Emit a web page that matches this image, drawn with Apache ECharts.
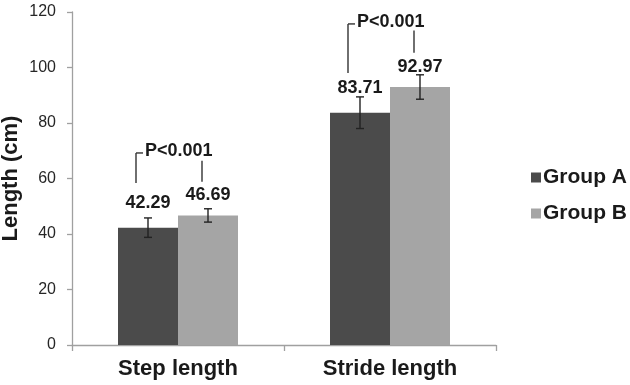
<!DOCTYPE html>
<html>
<head>
<meta charset="utf-8">
<script src="https://cdn.jsdelivr.net/npm/echarts@6/dist/echarts.min.js"></script>
<style>
html,body{margin:0;padding:0;background:#fff;}
#main{width:630px;height:385px;}
</style>
</head>
<body>
<div id="main"></div>
<script>
// ---- data ----
var categories = ['Step length', 'Stride length'];
var groupNames = ['Group A', 'Group B'];
var groupA = [42.29, 83.71];
var groupB = [46.69, 92.97];
var groupASD = [3.5, 5.7];
var groupBSD = [2.4, 4.4];
var yTicks = [0, 20, 40, 60, 80, 100, 120];
// significance brackets: [category, leftLow, leftHigh, rightLow, rightHigh]
var brackets = [
  [0, 58.4, 69.2, 58.8, 66.4],
  [1, 98.0, 115.7, 105.3, 113.3]
];
var pLabels = ['P<0.001', 'P<0.001'];

// ---- style ----
var BAR_W = 60;
var FONT = 'Liberation Sans, Arial, sans-serif';
var TEXT = '#1a1a1a';
var AXIS = '#a0a0a0';
var colorA = '#4b4b4b';
var colorB = '#a5a5a5';

function errData(means, sds) {
  return means.map(function (m, i) { return [i, m - sds[i], m + sds[i]]; });
}

function errSeries(name, means, sds, side) {
  return {
    type: 'custom',
    name: name + ' err',
    silent: true,
    z: 10,
    data: errData(means, sds),
    renderItem: function (params, api) {
      var lo = api.coord([api.value(0), api.value(1)]);
      var hi = api.coord([api.value(0), api.value(2)]);
      var x = lo[0] + side * BAR_W / 2;
      var cw = 4;
      var st = { stroke: '#222', lineWidth: 1.4 };
      return {
        type: 'group',
        children: [
          { type: 'line', shape: { x1: x, y1: lo[1], x2: x, y2: hi[1] }, style: st },
          { type: 'line', shape: { x1: x - cw, y1: lo[1], x2: x + cw, y2: lo[1] }, style: st },
          { type: 'line', shape: { x1: x - cw, y1: hi[1], x2: x + cw, y2: hi[1] }, style: st }
        ]
      };
    }
  };
}

var chart = echarts.init(document.getElementById('main'));
chart.setOption({
  animation: false,
  backgroundColor: '#fff',
  textStyle: { fontFamily: FONT },
  grid: { left: 72, right: 134, top: 12, bottom: 40, containLabel: false, outerBoundsMode: 'none' },
  legend: {
    orient: 'vertical',
    left: 526,
    top: 162,
    itemWidth: 10,
    itemHeight: 10,
    itemGap: 15,
    icon: 'rect',
    data: groupNames,
    textStyle: { fontSize: 21, fontWeight: 'bold', color: TEXT, fontFamily: FONT, padding: [0, 0, 0, -3] }
  },
  xAxis: {
    type: 'category',
    data: categories,
    axisLine: { lineStyle: { color: AXIS, width: 1.3 } },
    axisTick: { show: true, length: 6, lineStyle: { color: AXIS, width: 1.3 } },
    axisLabel: { fontSize: 22, fontWeight: 'bold', color: TEXT, margin: 13, fontFamily: FONT }
  },
  yAxis: {
    type: 'value',
    min: yTicks[0],
    max: yTicks[yTicks.length - 1],
    interval: yTicks[1] - yTicks[0],
    name: 'Length (cm)',
    nameLocation: 'middle',
    nameGap: 50,
    nameMoveOverlap: false,
    nameTextStyle: { fontSize: 22, fontWeight: 'bold', color: TEXT, fontFamily: FONT },
    splitLine: { show: false },
    axisLine: { show: true, lineStyle: { color: AXIS, width: 1.3 } },
    axisTick: { show: true, length: 5, lineStyle: { color: AXIS, width: 1.3 } },
    axisLabel: { fontSize: 16, color: '#262626', margin: 16, fontFamily: FONT }
  },
  series: [
    {
      type: 'bar', name: groupNames[0], data: groupA, barWidth: BAR_W, barGap: '0%',
      itemStyle: { color: colorA },
      label: { show: true, position: 'top', distance: 16, fontSize: 18, fontWeight: 'bold', color: TEXT, fontFamily: FONT, formatter: function (p) { return p.value.toFixed(2); } }
    },
    {
      type: 'bar', name: groupNames[1], data: groupB, barWidth: BAR_W, barGap: '0%',
      itemStyle: { color: colorB },
      label: { show: true, position: 'top', distance: 11, fontSize: 18, fontWeight: 'bold', color: TEXT, fontFamily: FONT, formatter: function (p) { return p.value.toFixed(2); } }
    },
    errSeries(groupNames[0], groupA, groupASD, -1),
    errSeries(groupNames[1], groupB, groupBSD, 1),
    {
      type: 'custom',
      name: 'brackets',
      silent: true,
      z: 11,
      data: brackets,
      renderItem: function (params, api) {
        var c = api.value(0);
        var l1 = api.coord([c, api.value(1)]);
        var l2 = api.coord([c, api.value(2)]);
        var r1 = api.coord([c, api.value(3)]);
        var r2 = api.coord([c, api.value(4)]);
        var xl = l1[0] - BAR_W / 2 - 12;
        var xr = r1[0] + BAR_W / 2 - 6;
        var st = { stroke: '#333', lineWidth: 1.4 };
        return {
          type: 'group',
          children: [
            { type: 'line', shape: { x1: xl, y1: l1[1], x2: xl, y2: l2[1] }, style: st },
            { type: 'line', shape: { x1: xl, y1: l2[1], x2: xl + 7, y2: l2[1] }, style: st },
            { type: 'line', shape: { x1: xr, y1: r1[1], x2: xr, y2: r2[1] }, style: st },
            {
              type: 'text',
              style: {
                x: xl + 9, y: l2[1] - 2,
                text: pLabels[params.dataIndex],
                fill: TEXT,
                font: 'bold 18px ' + FONT,
                textAlign: 'left',
                textVerticalAlign: 'middle'
              }
            }
          ]
        };
      }
    }
  ]
});
</script>
</body>
</html>
